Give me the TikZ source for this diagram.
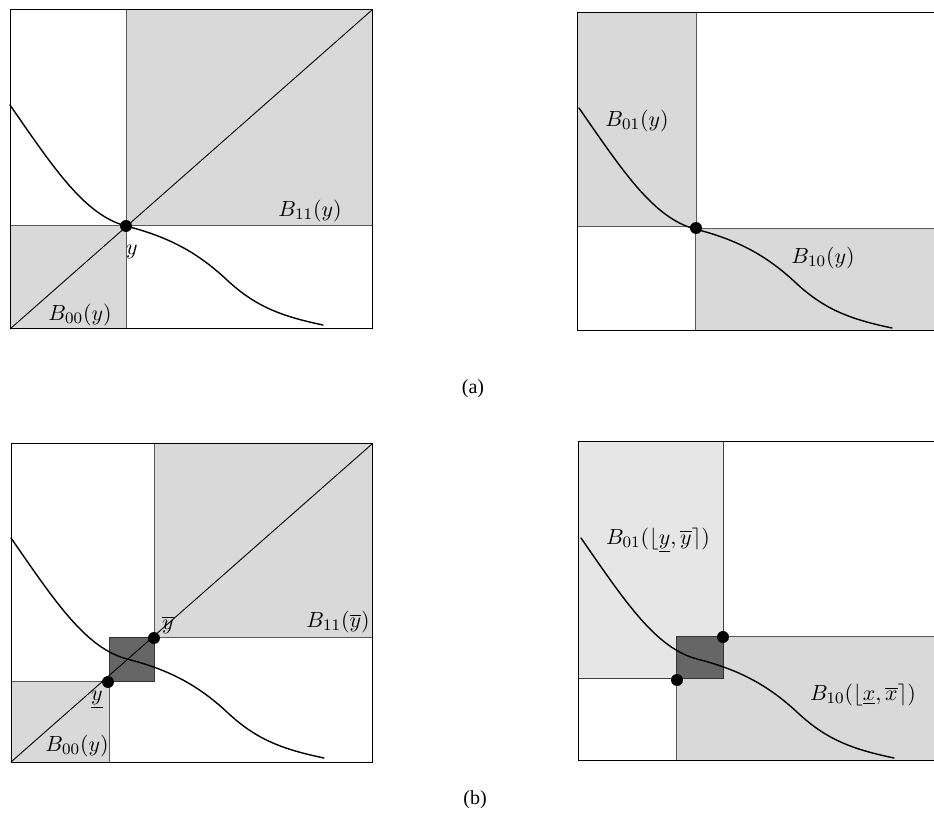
\documentclass[tikz,border=0pt]{standalone}
\usepackage{fontspec}
\newfontfamily\capfont{Liberation Serif}
\definecolor{boxgray}{HTML}{D9D9D9}
\definecolor{lightbox}{HTML}{E6E6E6}
\definecolor{darkbox}{HTML}{666666}
\begin{document}
\begin{tikzpicture}[x=0.5pt,y=-0.5pt,
  region/.style={fill=boxgray, draw=black!65, line width=0.5pt},
  lightregion/.style={fill=lightbox, draw=black!75, line width=0.5pt},
  darkregion/.style={fill=darkbox, draw=black!80, line width=0.5pt},
  frame/.style={draw=black, line width=0.5pt},
  diag/.style={draw=black, line width=0.45pt},
  dot/.style={circle, fill=black, inner sep=0pt, minimum size=6pt},
  lbl/.style={inner sep=0pt, font=\fontsize{11}{13}\selectfont},
  captext/.style={inner sep=0pt, font=\capfont\fontsize{10}{12}\selectfont},
  sigmoid/.pic={\draw[line width=0.7pt, line cap=round]
     (10,105) .. controls (55,170) and (85,215) .. (126,226)
              .. controls (165,236) and (195,250) .. (227,280)
              .. controls (255,306) and (280,316) .. (323,325);}
]
\clip (0,0) rectangle (934,829);
\fill[white] (0,0) rectangle (934,829);

% ---------- (a) left ----------
\path[region] (126,10) rectangle (372,226);
\path[region] (10,226) rectangle (126,329);
\draw[frame] (10,10) rectangle (372,329);
\draw[diag] (10,329) -- (372,10);
\pic at (0,0) {sigmoid};
\node[dot] (ya) at (126,226) {};
\node[lbl] (ylab) at (132,252) {$y$};
\node[lbl] (b00a) at (80,315) {$B_{00}(y)$};
\node[lbl] (b11a) at (310,211) {$B_{11}(y)$};

% ---------- (a) right ----------
\path[region] (577,13) rectangle (696,227);
\path[region] (695,229) rectangle (945,331);
\draw[frame] (577,13) rectangle (945,331);
\pic at (569,3) {sigmoid};
\node[dot] (yr) at (696,228) {};
\node[lbl] (b01a) at (637,121) {$B_{01}(y)$};
\node[lbl] (b10a) at (823,258) {$B_{10}(y)$};

\node[captext] (capa) at (473,389) {(a)};

% ---------- (b) left ----------
\path[region] (154,444) rectangle (372,638);
\path[region] (11,682) rectangle (109,762);
\path[darkregion] (109,638) rectangle (154,682);
\draw[frame] (11,444) rectangle (372,762);
\draw[diag] (11,762) -- (372,444);
\pic at (1,433) {sigmoid};
\node[dot] (ybar) at (154,638) {};
\node[dot] (yund) at (108,682) {};
\node[lbl] (ybarlab) at (168,625) {$\overline{y}$};
\node[lbl] (yundlab) at (97,700) {$\underline{y}$};
\node[lbl] (b00b) at (77,746) {$B_{00}(y)$};
\node[lbl] (b11b) at (338,622) {$B_{11}(\overline{y})$};

% ---------- (b) right ----------
\path[lightregion] (578,442) rectangle (723,679);
\path[region] (676,637) rectangle (945,760);
\path[darkregion] (676,637) rectangle (723,679);
\draw[frame] (578,442) rectangle (945,760);
\pic at (571,433) {sigmoid};
\node[dot] (pu) at (723,637) {};
\node[dot] (pl) at (677,680) {};
\node[lbl] (b01b) at (658,540) {$B_{01}(\lfloor\underline{y},\overline{y}\rceil)$};
\node[lbl] (b10b) at (863,695) {$B_{10}(\lfloor\underline{x},\overline{x}\rceil)$};

\node[captext] (capb) at (475,800) {(b)};
\end{tikzpicture}
\end{document}
